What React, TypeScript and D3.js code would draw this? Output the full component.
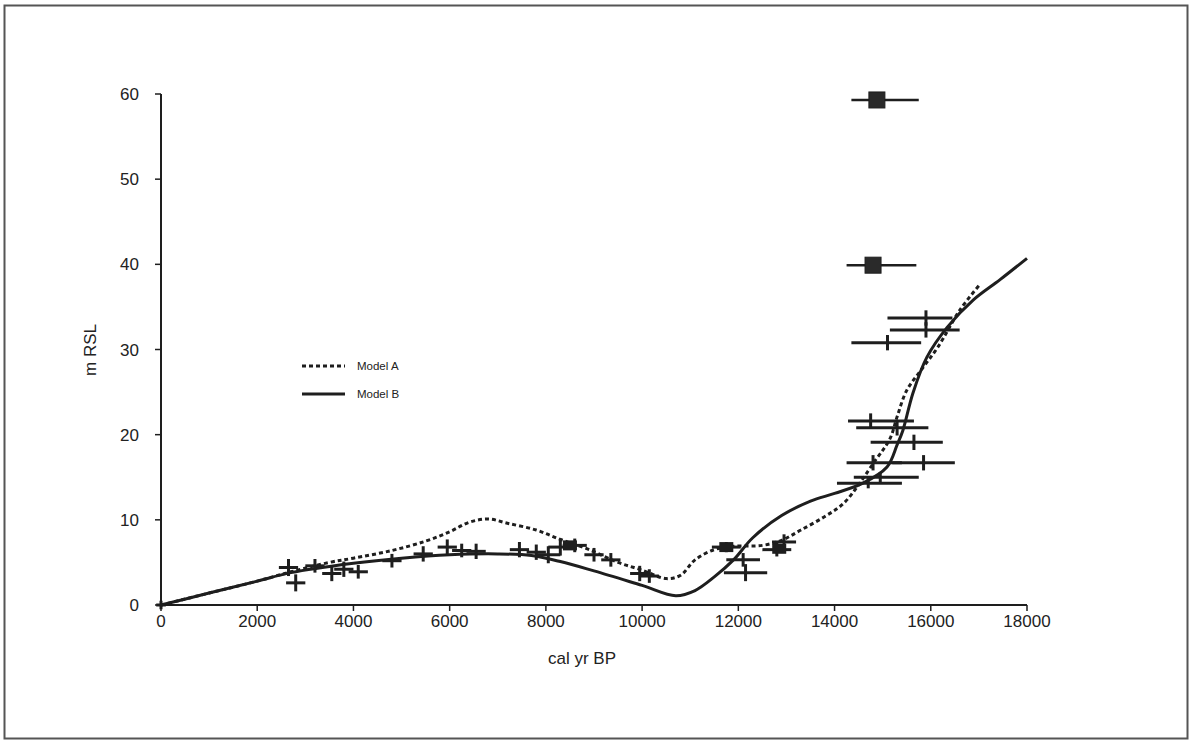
import React from "react";
import * as d3 from "d3";

// ---- data ----
const xTicks = [0, 2000, 4000, 6000, 8000, 10000, 12000, 14000, 16000, 18000];
const yTicks = [0, 10, 20, 30, 40, 50, 60];

// Model curves (age cal yr BP, m RSL)
const modelAAge = [0, 1000, 2000, 2700, 3500, 4000, 4800, 5500, 6000, 6400, 6800, 7200, 7800, 8300, 8900, 9500, 10000, 10500, 10800, 11100, 11500, 11900, 12500, 12900, 13300, 13800, 14200, 14850, 15150, 15300, 15500, 15800, 16150, 16600, 17000];
const modelARsl = [0, 1.4, 2.8, 3.9, 5.0, 5.5, 6.4, 7.5, 8.6, 9.7, 10.1, 9.6, 8.8, 7.7, 6.5, 5.0, 4.1, 3.1, 3.5, 5.3, 6.5, 6.9, 7.0, 7.6, 8.8, 10.4, 12.0, 17.0, 19.5, 22.1, 25.2, 27.6, 30.3, 34.6, 37.5];

const modelBAge = [0, 1000, 2000, 2700, 4000, 5000, 6000, 7000, 7700, 8300, 9000, 10000, 10700, 11100, 11500, 11900, 12300, 12900, 13500, 14000, 14590, 15090, 15300, 15420, 15630, 15920, 16340, 16880, 17440, 18000];
const modelBRsl = [0, 1.4, 2.8, 3.8, 4.9, 5.5, 5.9, 6.0, 5.8, 5.1, 4.0, 2.3, 1.1, 1.7, 3.3, 5.3, 7.9, 10.5, 12.2, 13.1, 14.3, 16.2, 18.8, 20.5, 24.9, 29.1, 32.6, 35.8, 38.2, 40.7];

// Sea-level index points (cross markers with error bars)
const ptAge = [0, 2650, 2800, 3200, 3550, 3800, 4100, 4800, 5450, 5950, 6250, 6550, 7450, 7800, 8050, 8300, 8600, 9000, 9350, 9950, 10150, 11750, 12100, 12150, 12800, 12950,
  15900, 15900, 15100, 14750, 15300, 15650, 14800, 15850, 14950, 14700];
const ptRsl = [0, 4.4, 2.6, 4.6, 3.7, 4.2, 3.9, 5.2, 6.0, 6.8, 6.4, 6.3, 6.5, 6.2, 5.9, 6.8, 7.0, 5.9, 5.3, 3.7, 3.4, 6.8, 5.3, 3.8, 6.5, 7.4,
  33.7, 32.3, 30.8, 21.6, 20.8, 19.1, 16.7, 16.7, 15.0, 14.3];
const ptAgeLo = [-100, 2450, 2600, 3000, 3350, 3600, 3900, 4600, 5250, 5750, 6050, 6350, 7250, 7600, 7800, 8050, 8350, 8800, 9150, 9750, 9950, 11450, 11750, 11700, 12500, 12700,
  15100, 15150, 14350, 14280, 14450, 14750, 14250, 15200, 14400, 14050];
const ptAgeHi = [100, 2850, 3000, 3400, 3750, 4000, 4300, 5000, 5650, 6150, 6450, 6750, 7650, 8000, 8300, 8550, 8850, 9200, 9550, 10150, 10350, 12050, 12450, 12600, 13100, 13200,
  16450, 16600, 15800, 15650, 15950, 16250, 15400, 16500, 15750, 15400];
const ptRslErr = [0.5, 1.0, 1.0, 0.8, 0.9, 0.9, 0.8, 0.8, 0.9, 0.9, 0.8, 0.9, 0.9, 0.9, 1.0, 1.0, 0.8, 0.8, 0.8, 0.9, 0.8, 0.6, 0.8, 1.0, 0.8, 0.9,
  0.9, 0.9, 0.9, 0.9, 0.9, 0.9, 0.9, 0.9, 0.6, 0.6];

// Filled square points
const sqAge = [14880, 14800];
const sqRsl = [59.3, 39.9];
const sqAgeLo = [14350, 14250];
const sqAgeHi = [15750, 15700];

// small filled blobs
const blobAge = [8500, 11750, 12850];
const blobRsl = [7.0, 6.8, 6.6];

const legendLabels = ["Model A", "Model B"];

export default function App() {
  const W = 1192, H = 741;
  const x = d3.scaleLinear().domain([0, 18000]).range([161, 1027]);
  const y = d3.scaleLinear().domain([0, 60]).range([605, 94]);
  const ink = "#1e1e1e";

  const lineA = d3.line<number>().x((d, i) => x(modelAAge[i])).y((d) => y(d)).curve(d3.curveCatmullRom.alpha(0.5));
  const lineB = d3.line<number>().x((d, i) => x(modelBAge[i])).y((d) => y(d)).curve(d3.curveCatmullRom.alpha(0.5));

  const font = "Arial, 'Liberation Sans', sans-serif";

  return (
    <svg width={W} height={H} style={{ position: "absolute", left: 0, top: 0, background: "#fff" }} fontFamily={font}>
      <rect x={0} y={0} width={W} height={H} fill="#fff" />
      <rect x={4.5} y={5.5} width={1183} height={733} fill="none" stroke="#555" strokeWidth={2} />

      {/* axes */}
      <line x1={x(0)} x2={x(18000)} y1={y(0)} y2={y(0)} stroke={ink} strokeWidth={2} />
      <line x1={x(0)} x2={x(0)} y1={y(0)} y2={y(60)} stroke={ink} strokeWidth={2} />
      {xTicks.map((t) => (
        <g key={"xt" + t}>
          <line x1={x(t)} x2={x(t)} y1={y(0)} y2={y(0) + 6} stroke={ink} strokeWidth={1.5} />
          <text x={x(t)} y={y(0) + 22} textAnchor="middle" fontSize={17} fill="#222">{t}</text>
        </g>
      ))}
      {yTicks.map((t) => (
        <g key={"yt" + t}>
          <line x1={x(0) - 6} x2={x(0)} y1={y(t)} y2={y(t)} stroke={ink} strokeWidth={1.5} />
          <text x={x(0) - 22} y={y(t) + 6} textAnchor="end" fontSize={17} fill="#222">{t}</text>
        </g>
      ))}
      <text x={582} y={664} textAnchor="middle" fontSize={17} fill="#222">cal yr BP</text>
      <text transform={`translate(96,350) rotate(-90)`} textAnchor="middle" fontSize={17} fill="#222">m RSL</text>

      {/* model curves */}
      <path d={lineA(modelARsl) || ""} fill="none" stroke={ink} strokeWidth={3} strokeDasharray="4,3" />
      <path d={lineB(modelBRsl) || ""} fill="none" stroke={ink} strokeWidth={3} />

      {/* cross points */}
      {ptAge.map((a, i) => (
        <g key={"p" + i} stroke={ink} strokeWidth={3}>
          <line x1={x(ptAgeLo[i])} x2={x(ptAgeHi[i])} y1={y(ptRsl[i])} y2={y(ptRsl[i])} />
          <line x1={x(a)} x2={x(a)} y1={y(ptRsl[i] - ptRslErr[i])} y2={y(ptRsl[i] + ptRslErr[i])} />
        </g>
      ))}

      {/* small blobs */}
      {blobAge.map((a, i) => (
        <rect key={"b" + i} x={x(a) - 7} y={y(blobRsl[i]) - 5} width={14} height={10} fill={ink} />
      ))}

      {/* squares */}
      {sqAge.map((a, i) => (
        <g key={"s" + i}>
          <line x1={x(sqAgeLo[i])} x2={x(sqAgeHi[i])} y1={y(sqRsl[i])} y2={y(sqRsl[i])} stroke={ink} strokeWidth={2.5} />
          <rect x={x(a) - 8} y={y(sqRsl[i]) - 8} width={16} height={16} fill="#2a2a2a" stroke={ink} strokeWidth={1} />
        </g>
      ))}

      {/* legend */}
      <line x1={302} x2={345} y1={366} y2={366} stroke={ink} strokeWidth={3} strokeDasharray="4,3" />
      <text x={357} y={370} fontSize={11.5} fill="#222">{legendLabels[0]}</text>
      <line x1={302} x2={345} y1={394} y2={394} stroke={ink} strokeWidth={3} />
      <text x={357} y={398} fontSize={11.5} fill="#222">{legendLabels[1]}</text>
    </svg>
  );
}
